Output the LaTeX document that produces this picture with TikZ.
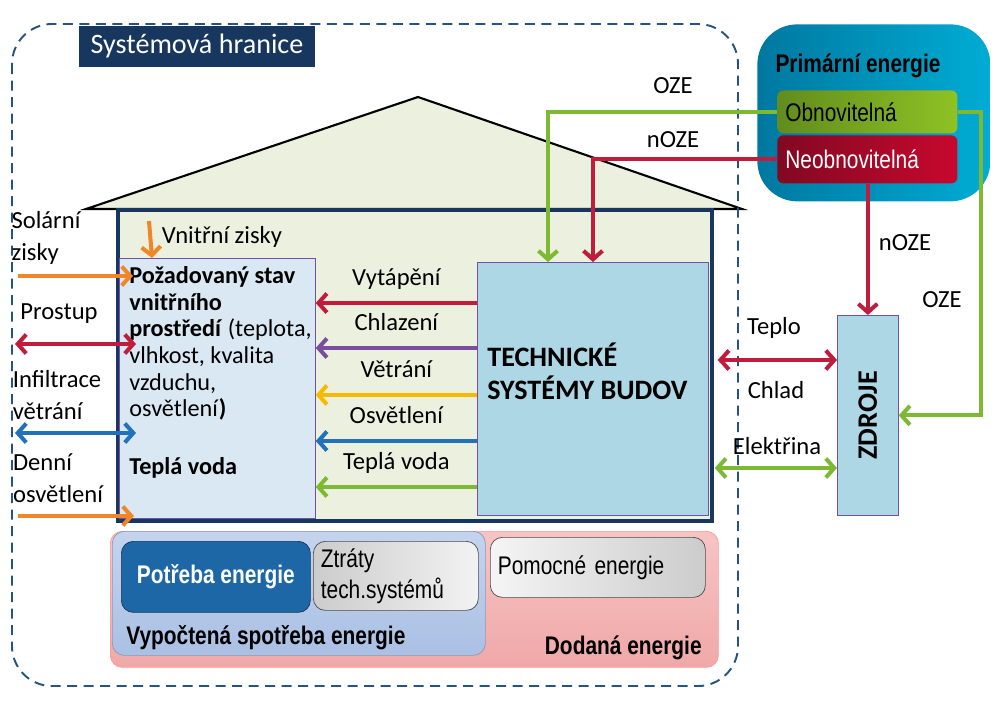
\documentclass[tikz,border=0pt]{standalone}
\usepackage{fontspec}
\setmainfont{Carlito}
\newfontfamily\uzke[FakeStretch=0.82]{Liberation Sans}
\usetikzlibrary{arrows.meta, calc}

\definecolor{cervena}{RGB}{192,28,60}
\definecolor{fialova}{RGB}{122,78,158}
\definecolor{zluta}{RGB}{247,186,0}
\definecolor{modra}{RGB}{33,114,186}
\definecolor{zelena}{RGB}{125,185,50}
\definecolor{oranzova}{RGB}{240,134,40}
\definecolor{carkovana}{RGB}{38,84,128}
\definecolor{tmavemodra}{RGB}{23,55,94}
\definecolor{bezova}{RGB}{235,241,222}
\definecolor{svetlemodra}{RGB}{218,232,243}
\definecolor{tsbmodra}{RGB}{174,215,229}
\definecolor{okraj}{RGB}{112,80,168}
\definecolor{tyrkys1}{RGB}{0,120,160}
\definecolor{tyrkys2}{RGB}{0,172,212}
\definecolor{obnov1}{RGB}{98,140,30}
\definecolor{obnov2}{RGB}{142,194,36}
\definecolor{neobnov1}{RGB}{130,8,34}
\definecolor{neobnov2}{RGB}{200,8,46}
\definecolor{vypocet1}{RGB}{196,212,238}
\definecolor{vypocet2}{RGB}{170,192,228}
\definecolor{dodana1}{RGB}{246,196,196}
\definecolor{dodana2}{RGB}{240,168,168}

\begin{document}
\begin{tikzpicture}[x=0.2mm, y=-0.2mm,
    sipka/.style={line width=2.3pt, -{Straight Barb[length=1.7mm,width=3.8mm]}},
    obe/.style={line width=2.3pt, {Straight Barb[length=1.7mm,width=3.8mm]}-{Straight Barb[length=1.7mm,width=3.8mm]}},
    popis/.style={font=\fontsize{14}{18}\selectfont, inner sep=0pt},
    uzky/.style={font=\uzke\fontsize{14.5}{17.5}\selectfont, inner sep=0pt},
    box/.style={draw=okraj, thin, anchor=north west, inner sep=0pt},
    zaobleny/.style={rounded corners=2.4mm, anchor=north west, inner sep=0pt}]
        \useasboundingbox (0,0) rectangle (1000,706);

        % Dum
        \draw[fill=bezova, line width=1.2pt] (86,209) -- (418,97) -- (742,209) -- cycle;
        \draw[fill=bezova, draw=tmavemodra, line width=1.8pt] (118,210) rectangle (712,521);

        \node[box, fill=svetlemodra, minimum width=39.2mm, minimum height=52mm] (pozadavky) at (119,258) {};
        \node[box, fill=tsbmodra, minimum width=46.2mm, minimum height=50.6mm] (tsb) at (477,262) {};
        \node[box, fill=tsbmodra, minimum width=12.2mm, minimum height=40mm] (zdroje) at (837,315) {};

        \node[anchor=north west, align=left, inner sep=0pt, font=\fontsize{13.8}{15.2}\selectfont] (pozadavkytext) at (129,266)
          {\textbf{Požadovaný stav}\\\textbf{vnitřního}\\\textbf{prostředí} (teplota,\\vlhkost, kvalita\\vzduchu,\\osvětlení\textbf{)}\\[17.5pt]\textbf{Teplá voda}};
        \node[anchor=west, align=left, inner sep=0pt, font=\fontsize{16}{19}\selectfont\bfseries] (tsbtext) at (487,371)
          {TECHNICKÉ\\SYSTÉMY BUDOV};
        \node[rotate=90, font=\fontsize{16}{19}\selectfont\bfseries] (zdrojetext) at (zdroje.center) {ZDROJE};

        % Primarni energie
        \node[zaobleny, rounded corners=8mm, left color=tyrkys1, right color=tyrkys2,
          minimum width=46.6mm, minimum height=35.4mm] (primarni) at (757,24) {};
        \node[uzky, font=\uzke\fontsize{14.5}{17.5}\selectfont\bfseries] (primarnitext) at (858,66) {Primární energie};
        \node[zaobleny, rounded corners=1.2mm, left color=obnov1, right color=obnov2,
          minimum width=36mm, minimum height=8.6mm, text width=32.8mm, align=left, uzky] (obnov) at (777,90) {Obnovitelná};
        \node[zaobleny, rounded corners=1.2mm, left color=neobnov1, right color=neobnov2,
          minimum width=36mm, minimum height=9.6mm, text width=32.8mm, align=left, uzky, text=white] (neobnov) at (777,135) {Neobnovitelná};

        % Dodana energie
        \node[zaobleny, draw=red!40, top color=dodana1, bottom color=dodana2, minimum width=121.6mm, minimum height=27.2mm] (dodana) at (110,531) {};
        \node[zaobleny, draw=vypocet2!80!black, top color=vypocet1, bottom color=vypocet2, minimum width=74.6mm, minimum height=24.8mm] (vypoctena) at (112,531) {};
        \node[zaobleny, draw=tmavemodra, fill=modra!90!black, minimum width=37.8mm, minimum height=14.2mm,
          uzky, font=\uzke\fontsize{14.5}{17.5}\selectfont\bfseries, text=white] (potreba) at (121,541) {Potřeba energie};
        \node[zaobleny, draw=black!70, left color=gray!40, right color=gray!10, minimum width=33mm, minimum height=13.8mm,
          text width=30mm, align=left, uzky, font=\uzke\fontsize{14.5}{17.6}\selectfont] (ztraty) at (313,541) {Ztráty\\tech.systémů};
        \node[zaobleny, draw=black!70, left color=gray!8, right color=gray!40, minimum width=43mm, minimum height=12mm,
          text width=40mm, align=left, uzky] (pomocne) at (490,537) {Pomocné energie};
        \node[uzky, anchor=west, font=\uzke\fontsize{14.5}{17.5}\selectfont\bfseries] (vypoctenatext) at (126,638) {Vypočtená spotřeba energie};
        \node[uzky, anchor=east, font=\uzke\fontsize{14.5}{17.5}\selectfont\bfseries] (dodanatext) at (702,648) {Dodaná energie};

        % Hranice systemu
        \draw[carkovana, line width=1.1pt, dash pattern=on 2mm off 1.3mm, rounded corners=8mm] (12,24) rectangle (738,686);
        \node[fill=tmavemodra, text=white, font=\fontsize{16}{19}\selectfont, minimum width=47.2mm, minimum height=8.2mm, inner sep=0pt] (hranicetext) at (197,46) {Systémová hranice};

        % Tepelne toky zleva
        \node[popis, align=left] (solarni) at (46,238) {Solární\\zisky};
        \node[popis] (prostup) at (59,314) {Prostup};
        \node[popis, align=left] (infiltrace) at (57,395) {Infiltrace\\větrání};
        \node[popis, align=left] (denni) at (58,478) {Denní\\osvětlení};
        \node[popis] (vnitrni) at (222,237) {Vnitřní zisky};

        \coordinate (sol0) at (18,276);
        \coordinate (pro0) at (15,344);
        \coordinate (inf0) at (15,433);
        \coordinate (den0) at (18,516);
        \coordinate (vz0) at (149,221);
        \draw[sipka, oranzova] (sol0) -- ($(pozadavky.west |- sol0)+(14,0)$);
        \draw[obe, cervena] (pro0) -- ($(pozadavky.west |- pro0)+(17,0)$);
        \draw[obe, modra] (inf0) -- ($(pozadavky.west |- inf0)+(17,0)$);
        \draw[sipka, oranzova] (den0) -- ($(pozadavky.west |- den0)+(15,0)$);
        \draw[sipka, oranzova] (vz0) -- (152,0 |- pozadavky.north);

        % Systemy -> vnitrni prostredi
        \foreach \y/\barva/\nazev in {303/cervena/Vytápění, 348/fialova/Chlazení, 395/zluta/Větrání, 441/modra/Osvětlení, 487/zelena/Teplá voda}
          \draw[sipka, \barva] (tsb.west |- 0,\y) -- (pozadavky.east |- 0,\y)
            node[popis, midway, anchor=base, yshift=10pt, text=black] {\nazev};

        % Primarni energie -> systemy a zdroje
        \draw[sipka, zelena] (obnov.west) -| (548,0 |- tsb.north);
        \draw[sipka, cervena] (neobnov.west) -| (593,0 |- tsb.north);
        \draw[sipka, cervena] (neobnov.south -| zdroje.north) -- (zdroje.north);
        \draw[sipka, zelena] (obnov.east) -| ($(zdroje.east)+(82,0)$) -- (zdroje.east);
        \node[popis] (oze1) at (673,86) {OZE};
        \node[popis] (noze1) at (673,140) {nOZE};
        \node[popis] (noze2) at (905,243) {nOZE};
        \node[popis] (oze2) at (942,300) {OZE};

        % Zdroje <-> systemy
        \draw[obe, cervena] ($(tsb.east |- 0,360)+(9,0)$) -- (zdroje.west |- 0,360);
        \draw[obe, zelena] ($(tsb.east |- 0,468)+(6,0)$) -- (zdroje.west |- 0,468);
        \node[popis] (teplo) at (774,328) {Teplo};
        \node[popis] (chlad) at (776,390) {Chlad};
        \node[popis] (elektrina) at (777,446) {Elektřina};
    \end{tikzpicture}
\end{document}
